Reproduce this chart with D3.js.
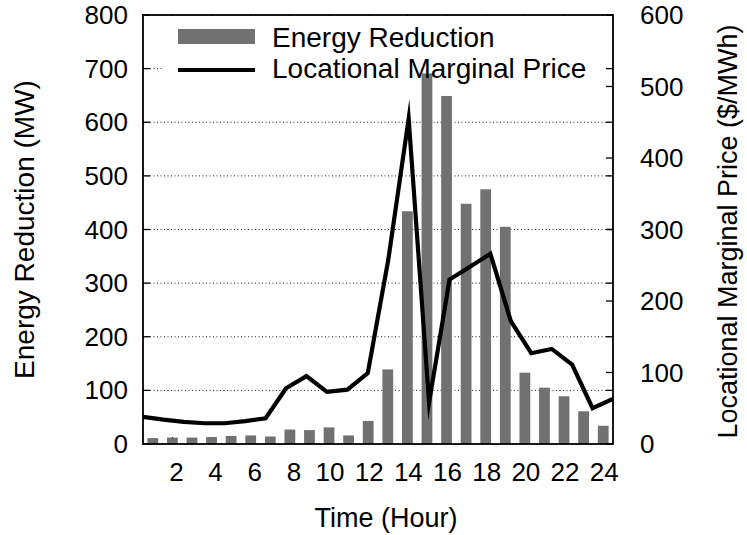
<!DOCTYPE html>
<html>
<head>
<meta charset="utf-8">
<script src="https://cdn.jsdelivr.net/npm/d3@7"></script>
<style>
  html, body { margin: 0; padding: 0; background: #fff; }
  svg { display: block; }
  text { font-family: "Liberation Sans", Arial, Helvetica, sans-serif; fill: #000; }
</style>
</head>
<body>
<svg id="chart" width="747" height="535"></svg>
<script>
// Hourly demand-response data
const hours = [1,2,3,4,5,6,7,8,9,10,11,12,13,14,15,16,17,18,19,20,21,22,23,24];
// Energy reduction per hour (MW), left axis
const energyReduction = [11,12,12,13,15,16,14,27,26,31,16,43,139,434,691,649,448,475,405,133,105,89,61,34];
// Locational marginal price per hour ($/MWh), right axis
const lmp = [38,34,31,29,29,32,36,78,95,73,76,99,257,455,58,230,248,266,172,127,133,111,50,63];
const xTicks = [2,4,6,8,10,12,14,16,18,20,22,24];
const yTicks = [0,100,200,300,400,500,600,700,800];
const y2Ticks = [0,100,200,300,400,500,600];
const legendLabels = ["Energy Reduction", "Locational Marginal Price"];

const svg = d3.select("#chart");
const L = 143, R = 613, T = 15, B = 444;
const fontSize = 26;
const tickLen = 7;

// Bars use a half-hour padded domain; the price line spans the full width
const x = d3.scaleLinear().domain([0.5, 24.5]).range([L, R]);
const xLine = d3.scaleLinear().domain([1, 24]).range([L, R]);
const y = d3.scaleLinear().domain([0, 800]).range([B, T]);
const y2 = d3.scaleLinear().domain([0, 600]).range([B, T]);

// Dotted horizontal grid
svg.append("g").selectAll("line")
  .data(yTicks.filter(d => d > 0 && d < 800))
  .join("line")
  .attr("x1", L).attr("x2", R)
  .attr("y1", d => y(d)).attr("y2", d => y(d))
  .attr("stroke", "#222").attr("stroke-width", 1)
  .attr("stroke-dasharray", "1,2.5");

// Inward ticks: bottom/top x, left/right y, right y2
const tickG = svg.append("g").attr("stroke", "#000").attr("stroke-width", 1.3);
xTicks.forEach(t => {
  tickG.append("line").attr("x1", x(t)).attr("x2", x(t)).attr("y1", B).attr("y2", B - tickLen);
  tickG.append("line").attr("x1", x(t)).attr("x2", x(t)).attr("y1", T).attr("y2", T + tickLen);
});
yTicks.forEach(t => {
  tickG.append("line").attr("x1", L).attr("x2", L + tickLen).attr("y1", y(t)).attr("y2", y(t));
  tickG.append("line").attr("x1", R).attr("x2", R - tickLen).attr("y1", y(t)).attr("y2", y(t));
});
y2Ticks.forEach(t => {
  tickG.append("line").attr("x1", R).attr("x2", R - tickLen).attr("y1", y2(t)).attr("y2", y2(t));
});

// Opaque legend background
svg.append("rect")
  .attr("x", 162).attr("y", T + 1).attr("width", 444).attr("height", 72)
  .attr("fill", "#fff");

// Bars
const barW = (x(2) - x(1)) * 0.55;
svg.append("g").selectAll("rect")
  .data(hours)
  .join("rect")
  .attr("x", (h) => x(h) - barW / 2)
  .attr("y", (h, i) => y(energyReduction[i]))
  .attr("width", barW)
  .attr("height", (h, i) => y(0) - y(energyReduction[i]))
  .attr("fill", "#717171");

// Price line
const line = d3.line()
  .x((d, i) => xLine(hours[i]))
  .y(d => y2(d));
svg.append("path")
  .datum(lmp)
  .attr("d", line)
  .attr("fill", "none")
  .attr("stroke", "#000")
  .attr("stroke-width", 4.2)
  .attr("stroke-linejoin", "miter")
  .attr("stroke-miterlimit", 10);

// Plot frame
svg.append("rect")
  .attr("x", L).attr("y", T).attr("width", R - L).attr("height", B - T)
  .attr("fill", "none").attr("stroke", "#000").attr("stroke-width", 1.8);

// Legend
const legendFont = 28;
const leg = svg.append("g");
leg.append("rect").attr("x", 178).attr("y", 29).attr("width", 77).attr("height", 15).attr("fill", "#717171");
leg.append("line").attr("x1", 178).attr("x2", 255).attr("y1", 70).attr("y2", 70)
  .attr("stroke", "#000").attr("stroke-width", 4.2);
leg.append("text").attr("x", 272).attr("y", 37).attr("dy", "0.35em")
  .attr("font-size", legendFont).text(legendLabels[0]);
leg.append("text").attr("x", 272).attr("y", 68).attr("dy", "0.35em")
  .attr("font-size", legendFont).text(legendLabels[1]);

// Tick labels (single digits sit a little right of their tick)
svg.append("g").selectAll("text").data(xTicks).join("text")
  .attr("x", d => x(d)).attr("y", 481)
  .attr("dx", d => String(d).length === 1 ? 4 : 1)
  .attr("text-anchor", "middle").attr("font-size", fontSize)
  .text(d => d);
svg.append("g").selectAll("text").data(yTicks).join("text")
  .attr("x", 128).attr("y", d => y(d)).attr("dy", "0.35em")
  .attr("text-anchor", "end").attr("font-size", fontSize)
  .text(d => d);
svg.append("g").selectAll("text").data(y2Ticks).join("text")
  .attr("x", 640).attr("y", d => y2(d)).attr("dy", "0.35em")
  .attr("text-anchor", "start").attr("font-size", fontSize)
  .text(d => d);

// Axis titles
svg.append("text").attr("x", 386).attr("y", 527)
  .attr("text-anchor", "middle").attr("font-size", 27).text("Time (Hour)");
svg.append("text")
  .attr("transform", `translate(34, ${(T + B) / 2}) rotate(-90)`)
  .attr("text-anchor", "middle").attr("font-size", 28).text("Energy Reduction (MW)");
svg.append("text")
  .attr("transform", `translate(737, ${(T + B) / 2 + 2}) rotate(-90)`)
  .attr("text-anchor", "middle").attr("font-size", 27).text("Locational Marginal Price ($/MWh)");
</script>
</body>
</html>
